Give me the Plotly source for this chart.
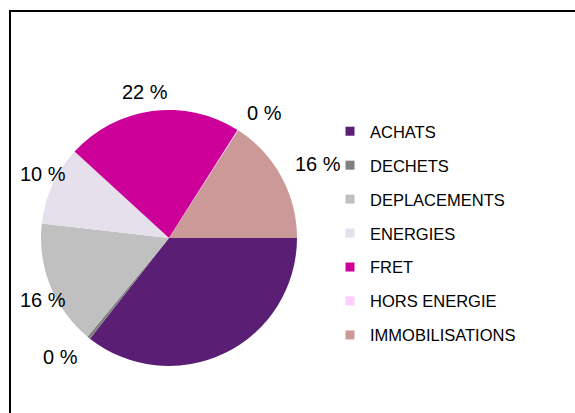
import math
import plotly.graph_objects as go

categories = ["ACHATS", "DECHETS", "DEPLACEMENTS", "ENERGIES", "FRET", "HORS ENERGIE", "IMMOBILISATIONS"]
values = [35.6, 0.4, 15.8, 10.0, 22.2, 0.1, 15.9]
slice_labels = ["", "0 %", "16 %", "10 %", "22 %", "0 %", "16 %"]
colors = ["#5A1E74", "#808080", "#C0C0C0", "#E6E0EC", "#CC0099", "#FFCCFF", "#CC9999"]

W, H = 575, 413
dom_x = [41 / W, 297 / W]
dom_y = [(H - 366) / H, (H - 110) / H]
LABEL_SIZE = 20

fig = go.Figure()
fig.add_trace(go.Pie(
    labels=categories,
    values=values,
    textinfo="none",
    sort=False,
    direction="clockwise",
    rotation=90,
    automargin=False,
    marker=dict(colors=colors, line=dict(width=0)),
    showlegend=False,
    hoverinfo="label+percent",
    domain=dict(x=dom_x, y=dom_y),
))

# outside-end data labels, positioned from the slice angles
cx = (dom_x[0] + dom_x[1]) / 2 * W
cy = H - (dom_y[0] + dom_y[1]) / 2 * H
R = min((dom_x[1] - dom_x[0]) * W, (dom_y[1] - dom_y[0]) * H) / 2
gap = 13
left_limit = 18
char_w = {"0": .556, "1": .556, "2": .556, "3": .556, "4": .556, "5": .556,
          "6": .556, "7": .556, "8": .556, "9": .556, " ": .278, "%": .889}
total = sum(values)
cum = 0.0
annotations = []
for val, txt in zip(values, slice_labels):
    mid = (cum + val / 2) / total * 2 * math.pi
    cum += val
    if not txt:
        continue
    ux, uy = math.cos(mid), math.sin(mid)
    ax = cx + (R + gap) * ux
    ay = cy + (R + gap) * uy
    tw = sum(char_w.get(c, .6) for c in txt) * LABEL_SIZE
    if abs(ux) < 0.3:
        xanchor = "center"
        ax -= 5
    elif ux > 0:
        xanchor = "left"
    else:
        xanchor = "right"
        if ax - tw < left_limit:
            xanchor = "left"
            ax = left_limit
    if uy < 0:
        yanchor, yshift = "bottom", -7
    else:
        yanchor, yshift = "top", 4
    annotations.append(dict(
        x=ax / W, y=1 - ay / H, xref="paper", yref="paper",
        text=txt, showarrow=False, xanchor=xanchor, yanchor=yanchor, yshift=yshift,
        font=dict(family="Arial", size=LABEL_SIZE, color="#000000"),
    ))

for cat, col in zip(categories, colors):
    fig.add_trace(go.Scatter(
        x=[None], y=[None], mode="markers", name=cat,
        marker=dict(symbol="square", size=9, color=col),
        legendgroup=cat, showlegend=True,
    ))

fig.update_layout(
    width=W, height=H,
    margin=dict(l=0, r=0, t=0, b=0, pad=0, autoexpand=False),
    paper_bgcolor="white", plot_bgcolor="white",
    xaxis=dict(visible=False), yaxis=dict(visible=False),
    legend=dict(
        x=330 / W, y=(H - 114) / H, xanchor="left", yanchor="top",
        font=dict(family="Arial", size=16.5, color="#000000"),
        tracegroupgap=9.5, bgcolor="rgba(0,0,0,0)",
    ),
    annotations=annotations,
    shapes=[dict(type="rect", xref="paper", yref="paper",
                 x0=10 / W, x1=1.2, y0=-0.2, y1=(H - 11) / H,
                 line=dict(color="black", width=2), fillcolor="rgba(0,0,0,0)", layer="below")],
    showlegend=True,
    autosize=False,
)

fig.write_html("out.html", config={"displayModeBar": False},
               post_script="document.body.style.margin='0';document.body.style.padding='0';")
